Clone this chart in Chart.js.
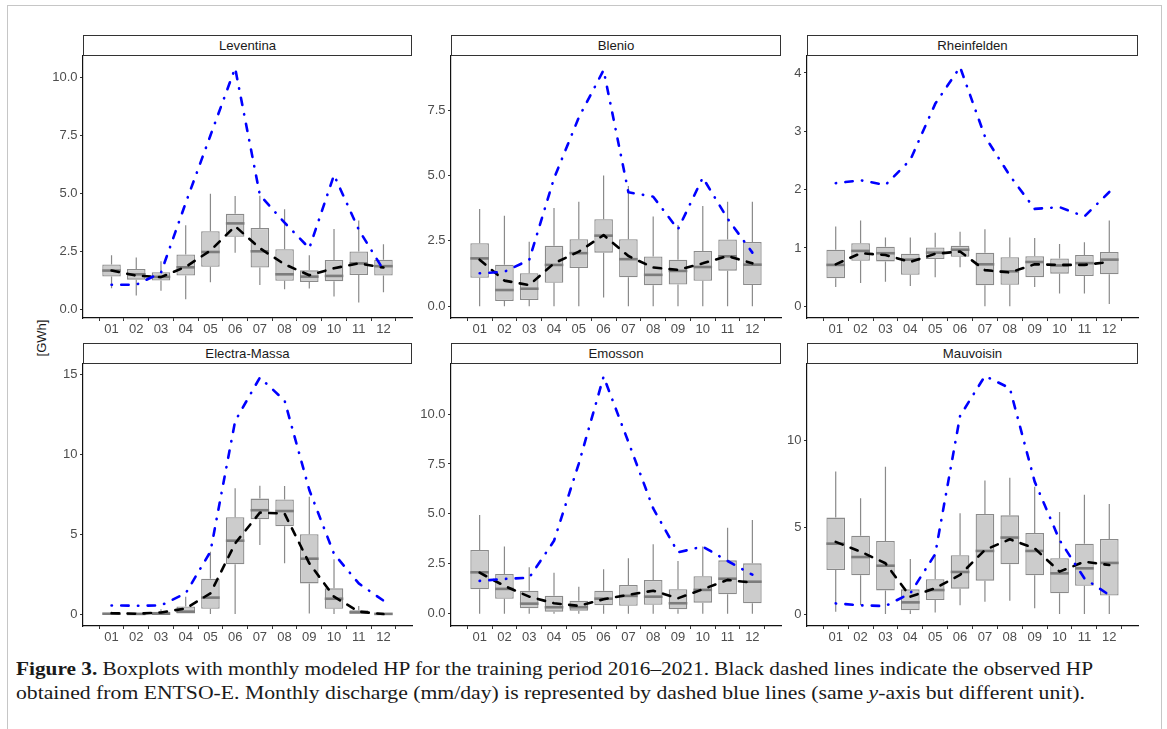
<!DOCTYPE html>
<html>
<head>
<meta charset="utf-8">
<script src="https://cdn.jsdelivr.net/npm/chart.js@4.4.1/dist/chart.umd.min.js"></script>
<style>
  html, body { margin: 0; padding: 0; background: #fff; }
  body { width: 1167px; height: 729px; overflow: hidden; position: relative; font-family: "Liberation Sans", Arial, sans-serif; }
  .frame { position: absolute; left: 7px; top: 5px; width: 1155px; height: 800px; border: 1.5px solid #c6c6c6; border-bottom: none; box-sizing: border-box; }
  .strip { position: absolute; height: 21px; border: 1.3px solid #333; box-sizing: border-box; background: #fff; font-size: 13.2px; color: #1a1a1a; text-align: center; line-height: 19px; }
  canvas.panel { position: absolute; }
  .ylab { position: absolute; left: 41px; top: 338px; font-size: 13px; color: #1a1a1a; transform: translate(-50%, -50%) rotate(-90deg); white-space: nowrap; }
  .caption { position: absolute; left: 16px; top: 657px; font-family: "Liberation Serif", "DejaVu Serif", serif; font-size: 19px; line-height: 24px; color: #1a1a1a; white-space: nowrap; }
  .caption span.line { display: block; transform-origin: 0 50%; }
</style>
</head>
<body>
<div class="frame"></div>
<div class="ylab">[GWh]</div>
<div class="caption">
  <span class="line" id="cap1"><b>Figure 3.</b> Boxplots with monthly modeled HP for the training period 2016–2021. Black dashed lines indicate the observed HP</span>
  <span class="line" id="cap2">obtained from ENTSO-E. Monthly discharge (mm/day) is represented by dashed blue lines (same <i>y</i>-axis but different unit).</span>
</div>
<script>
// ---------------- DATA ----------------
const months = ['01','02','03','04','05','06','07','08','09','10','11','12'];
const siteNames = ['Leventina','Blenio','Rheinfelden','Electra-Massa','Emosson','Mauvoisin'];

// Leventina
const leventinaLow  = [0.93,0.62,0.82,0.46,1.19,2.46,1.07,0.89,0.92,0.57,0.32,0.76];
const leventinaQ1   = [1.43,1.30,1.26,1.48,1.85,3.14,1.82,1.25,1.20,1.23,1.50,1.48];
const leventinaMed  = [1.69,1.53,1.42,1.83,2.49,3.72,2.52,1.53,1.43,1.46,2.00,1.88];
const leventinaQ3   = [1.95,1.76,1.62,2.38,3.38,4.13,3.52,2.61,1.70,2.15,2.51,2.16];
const leventinaHigh = [2.35,2.25,2.09,3.64,5.00,4.90,4.91,4.33,2.35,3.48,3.84,2.82];
const leventinaObs  = [1.69,1.47,1.41,1.85,2.55,3.60,2.65,1.96,1.49,1.79,2.00,1.82];
const leventinaDis  = [1.08,1.08,1.60,4.60,7.50,10.40,4.94,3.75,2.65,5.80,3.45,1.72];
const leventinaTicks = [0,2.5,5,7.5,10];
const leventinaTickLabels = ['0.0','2.5','5.0','7.5','10.0'];

// Blenio
const blenioLow  = [0,0,0,0,0,0.33,0,0,0,0,0,0];
const blenioQ1   = [1.09,0.20,0.24,0.90,1.46,2.05,1.11,0.80,0.83,0.97,1.36,0.81];
const blenioMed  = [1.83,0.62,0.67,1.58,2.03,2.70,1.80,1.20,1.35,1.50,1.91,1.59];
const blenioQ3   = [2.41,1.59,1.26,2.31,2.56,3.33,2.56,1.90,1.78,2.11,2.55,2.46];
const blenioHigh = [3.72,3.46,2.47,3.76,4.00,5.00,4.60,3.43,3.11,3.83,4.00,4.00];
const blenioObs  = [1.78,0.98,0.81,1.64,2.09,2.72,1.92,1.48,1.39,1.64,1.92,1.64];
const blenioDis  = [1.26,1.32,1.77,4.89,7.22,9.03,4.36,4.19,2.94,4.92,3.35,2.05];
const blenioTicks = [0,2.5,5,7.5];
const blenioTickLabels = ['0.0','2.5','5.0','7.5'];

// Rheinfelden
const rheinfeldenLow  = [0.33,0.40,0.42,0.35,0.50,0.67,0.00,0.00,0.33,0.22,0.22,0.04];
const rheinfeldenQ1   = [0.48,0.78,0.77,0.54,0.81,0.85,0.36,0.37,0.50,0.56,0.52,0.55];
const rheinfeldenMed  = [0.71,0.95,0.91,0.80,0.92,0.97,0.72,0.60,0.76,0.70,0.74,0.80];
const rheinfeldenQ3   = [0.97,1.08,1.02,0.90,1.01,1.04,0.92,0.84,0.86,0.82,0.88,0.93];
const rheinfeldenHigh = [1.37,1.47,1.18,1.18,1.26,1.28,1.32,1.18,1.17,1.07,1.10,1.47];
const rheinfeldenObs  = [0.72,0.91,0.88,0.76,0.90,0.94,0.62,0.58,0.72,0.71,0.71,0.76];
const rheinfeldenDis  = [2.11,2.16,2.08,2.51,3.47,4.10,2.91,2.24,1.67,1.70,1.54,1.96];
const rheinfeldenTicks = [0,1,2,3,4];
const rheinfeldenTickLabels = ['0','1','2','3','4'];

// Electra-Massa
const electraLow  = [0,0,0,0,0,0,4.33,3.18,0.04,0,0,0];
const electraQ1   = [0,0,0,0,0.33,3.12,5.94,5.50,1.92,0.33,0,0];
const electraMed  = [0.02,0.01,0.02,0.15,1.03,4.60,6.51,6.46,3.47,0.96,0.10,0.01];
const electraQ3   = [0.08,0.05,0.15,0.48,2.22,6.07,7.24,7.18,5.00,1.61,0.23,0.05];
const electraHigh = [0.15,0.10,0.30,1.09,3.91,7.89,8.05,8.03,7.36,3.43,0.50,0.05];
const electraObs  = [0.05,0.02,0.10,0.35,1.30,4.43,6.36,6.30,3.18,1.09,0.15,0.00];
const electraDis  = [0.54,0.52,0.54,1.30,3.91,12.10,14.83,13.39,7.78,3.77,1.92,0.84];
const electraTicks = [0,5,10,15];
const electraTickLabels = ['0','5','10','15'];

// Emosson
const emossonLow  = [0,0,0,0,0,0,0,0,0,0,0,0];
const emossonQ1   = [1.22,0.74,0.27,0.10,0.15,0.42,0.39,0.44,0.22,0.55,0.97,0.52];
const emossonMed  = [2.07,1.24,0.50,0.32,0.32,0.75,0.89,0.85,0.52,1.19,1.75,1.60];
const emossonQ3   = [3.19,1.99,1.15,0.89,0.65,1.15,1.44,1.69,1.22,1.87,2.67,2.52];
const emossonHigh = [4.94,3.36,2.32,2.05,1.35,2.22,2.77,3.48,2.64,3.36,4.31,4.69];
const emossonObs  = [2.05,1.39,0.85,0.52,0.39,0.72,0.94,1.15,0.77,1.22,1.69,1.55];
const emossonDis  = [1.64,1.74,1.80,3.65,7.52,11.88,8.60,5.27,3.07,3.36,2.64,1.95];
const emossonTicks = [0,2.5,5,7.5,10];
const emossonTickLabels = ['0.0','2.5','5.0','7.5','10.0'];

// Mauvoisin
const mauvoisinLow  = [0.13,0.52,0,0,0.08,0.50,0.71,0.77,0.33,0,0,0];
const mauvoisinQ1   = [2.53,2.23,1.36,0.21,0.81,1.46,1.92,2.86,2.23,1.19,1.63,1.06];
const mauvoisinMed  = [4.05,3.28,2.78,0.67,1.38,2.42,3.63,4.40,3.63,2.34,2.63,2.94];
const mauvoisinQ3   = [5.55,4.51,4.20,1.42,2.00,3.38,5.76,5.68,4.66,3.21,4.05,4.32];
const mauvoisinHigh = [8.20,6.66,8.48,3.17,3.40,5.80,7.68,7.85,7.33,5.87,6.87,6.33];
const mauvoisinObs  = [4.15,3.59,2.92,1.00,1.48,2.25,3.69,4.30,3.78,2.44,3.01,2.82];
const mauvoisinDis  = [0.61,0.50,0.46,1.19,3.45,11.40,13.70,13.00,7.62,4.26,2.05,1.09];
const mauvoisinTicks = [0,5,10];
const mauvoisinTickLabels = ['0','5','10'];

// ---------------- LAYOUT ----------------
const colLeft  = [83, 451, 807];
const colRight = [412, 781, 1138];
const rowTop   = [56, 364];
const plotH    = 262;
const yAxisW = 60, xAxisH = 26, padTop = 10, padRight = 10;

const panels = [
  { name: siteNames[0], lo: leventinaLow, q1: leventinaQ1, med: leventinaMed, q3: leventinaQ3, hi: leventinaHigh, obs: leventinaObs, dis: leventinaDis, ticks: leventinaTicks, tickLabels: leventinaTickLabels, yMin: -0.35, yMax: 10.92 },
  { name: siteNames[1], lo: blenioLow, q1: blenioQ1, med: blenioMed, q3: blenioQ3, hi: blenioHigh, obs: blenioObs, dis: blenioDis, ticks: blenioTicks, tickLabels: blenioTickLabels, yMin: -0.45, yMax: 9.57 },
  { name: siteNames[2], lo: rheinfeldenLow, q1: rheinfeldenQ1, med: rheinfeldenMed, q3: rheinfeldenQ3, hi: rheinfeldenHigh, obs: rheinfeldenObs, dis: rheinfeldenDis, ticks: rheinfeldenTicks, tickLabels: rheinfeldenTickLabels, yMin: -0.2, yMax: 4.29 },
  { name: siteNames[3], lo: electraLow, q1: electraQ1, med: electraMed, q3: electraQ3, hi: electraHigh, obs: electraObs, dis: electraDis, ticks: electraTicks, tickLabels: electraTickLabels, yMin: -0.75, yMax: 15.68 },
  { name: siteNames[4], lo: emossonLow, q1: emossonQ1, med: emossonMed, q3: emossonQ3, hi: emossonHigh, obs: emossonObs, dis: emossonDis, ticks: emossonTicks, tickLabels: emossonTickLabels, yMin: -0.62, yMax: 12.51 },
  { name: siteNames[5], lo: mauvoisinLow, q1: mauvoisinQ1, med: mauvoisinMed, q3: mauvoisinQ3, hi: mauvoisinHigh, obs: mauvoisinObs, dis: mauvoisinDis, ticks: mauvoisinTicks, tickLabels: mauvoisinTickLabels, yMin: -0.69, yMax: 14.39 }
];

const tickFont = { family: '"Liberation Sans", Arial, sans-serif', size: 13 };
const tickColor = '#4d4d4d';

function makeBoxPlugin(p) {
  return {
    id: 'boxExtras',
    afterDatasetDraw(chart, args) {
      if (args.index !== 0) return;
      const xs = chart.scales.x, ys = chart.scales.y, ctx = chart.ctx;
      ctx.save();
      args.meta.data.forEach((bar, i) => {
        const x = xs.getPixelForValue(i + 1);
        const w = bar.width;
        ctx.strokeStyle = '#8a8a8a';
        ctx.lineWidth = 1.2;
        ctx.lineCap = 'butt';
        ctx.beginPath();
        ctx.moveTo(x, ys.getPixelForValue(p.hi[i]));
        ctx.lineTo(x, ys.getPixelForValue(p.q3[i]));
        ctx.moveTo(x, ys.getPixelForValue(p.q1[i]));
        ctx.lineTo(x, ys.getPixelForValue(p.lo[i]));
        ctx.stroke();
        const ym = ys.getPixelForValue(p.med[i]);
        ctx.strokeStyle = '#7c7c7c';
        ctx.lineWidth = 2.6;
        ctx.beginPath();
        ctx.moveTo(x - w / 2, ym);
        ctx.lineTo(x + w / 2, ym);
        ctx.stroke();
      });
      ctx.restore();
    }
  };
}

panels.forEach((p, k) => {
  const col = k % 3, row = Math.floor(k / 3);
  const L = colLeft[col], R = colRight[col], T = rowTop[row];

  const strip = document.createElement('div');
  strip.className = 'strip';
  strip.style.left = L + 'px';
  strip.style.top = (T - 21) + 'px';
  strip.style.width = (R - L) + 'px';
  strip.textContent = p.name;

  const cv = document.createElement('canvas');
  cv.className = 'panel';
  cv.width = (R - L) + yAxisW + padRight;
  cv.height = padTop + plotH + xAxisH;
  cv.style.left = (L - yAxisW) + 'px';
  cv.style.top = (T - padTop) + 'px';
  document.body.appendChild(cv);
  document.body.appendChild(strip);

  new Chart(cv, {
    type: 'bar',
    data: {
      datasets: [
        {
          type: 'bar',
          order: 2,
          data: months.map((m, i) => ({ x: i + 1, y: [p.q1[i], p.q3[i]] })),
          backgroundColor: '#cccccc',
          borderColor: '#8a8a8a',
          borderWidth: 1.3,
          borderSkipped: false,
          barPercentage: 0.75,
          categoryPercentage: 1.0
        },
        {
          type: 'line',
          order: 1,
          data: months.map((m, i) => ({ x: i + 1, y: p.obs[i] })),
          borderColor: '#000000',
          borderWidth: 2.6,
          borderDash: [7.5, 8.5],
          borderCapStyle: 'round',
          borderJoinStyle: 'round',
          pointRadius: 0,
          tension: 0,
          fill: false
        },
        {
          type: 'line',
          order: 0,
          data: months.map((m, i) => ({ x: i + 1, y: p.dis[i] })),
          borderColor: '#0000ff',
          borderWidth: 2.6,
          borderDash: [0.4, 9.3, 7.4, 9.3],
          borderCapStyle: 'round',
          borderJoinStyle: 'round',
          pointRadius: 0,
          tension: 0,
          fill: false
        }
      ]
    },
    options: {
      responsive: false,
      animation: false,
      devicePixelRatio: 1,
      layout: { padding: { left: 0, top: padTop, right: padRight, bottom: 0 } },
      plugins: { legend: { display: false }, tooltip: { enabled: false } },
      scales: {
        x: {
          type: 'linear',
          min: 0.4,
          max: 12.6,
          afterBuildTicks: (s) => { s.ticks = months.map((m, i) => ({ value: i + 1 })); },
          afterFit: (s) => { s.height = xAxisH; s.paddingLeft = 0; s.paddingRight = 0; },
          ticks: {
            autoSkip: false, maxRotation: 0, minRotation: 0, padding: 1,
            font: tickFont, color: tickColor,
            callback: (v) => months[Math.round(v) - 1]
          },
          grid: { display: true, drawOnChartArea: false, drawTicks: true, tickLength: 3, color: '#333333', lineWidth: 1 },
          border: { display: true, color: '#111111', width: 1.2 }
        },
        y: {
          type: 'linear',
          min: p.yMin,
          max: p.yMax,
          afterBuildTicks: (s) => { s.ticks = p.ticks.map(v => ({ value: v })); },
          afterFit: (s) => { s.width = yAxisW; s.paddingTop = 0; s.paddingBottom = 0; },
          ticks: {
            padding: 2.5, font: tickFont, color: tickColor,
            callback: (v, i) => p.tickLabels[i]
          },
          grid: { display: true, drawOnChartArea: false, drawTicks: true, tickLength: 3, color: '#333333', lineWidth: 1 },
          border: { display: true, color: '#111111', width: 1.2 }
        }
      }
    },
    plugins: [makeBoxPlugin(p)]
  });
});

// fit caption lines to the reference line widths
const capTargets = { cap1: 1077, cap2: 1069 };
Object.keys(capTargets).forEach(id => {
  const el = document.getElementById(id);
  const r = document.createRange();
  r.selectNodeContents(el);
  const w = r.getBoundingClientRect().width;
  if (w > 0) el.style.transform = 'scaleX(' + (capTargets[id] / w) + ')';
});
</script>
</body>
</html>
